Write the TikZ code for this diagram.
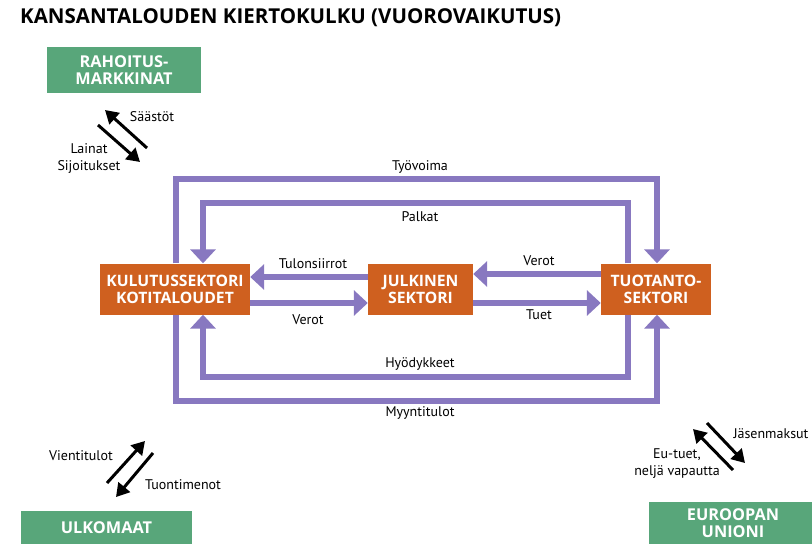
\documentclass[tikz,border=0pt]{standalone}
\usepackage{fontspec}
\setmainfont{PT Sans}
\newfontfamily\hdfont{Open Sans}
\usetikzlibrary{arrows.meta}
\definecolor{orng}{HTML}{CF601F}
\definecolor{grn}{HTML}{58A67A}
\definecolor{purp}{HTML}{8878C0}
\tikzset{
  sector/.style={fill=orng, text=white, font=\hdfont\fontsize{15.7}{17}\selectfont\bfseries, align=center, inner sep=0pt},
  grnbox/.style={fill=grn, text=white, font=\hdfont\fontsize{16.3}{17}\selectfont\bfseries, align=center, inner sep=0pt},
  flow/.style={draw=purp, line width=6pt, -{Triangle[width=25pt,length=14pt]}},
  money/.style={draw=black, line width=3pt, -{Triangle[width=15pt,length=13pt]}},
  lbl/.style={font=\fontsize{14}{17}\selectfont, text=black, inner sep=0pt, align=center}
}
\begin{document}
\begin{tikzpicture}[x=1pt,y=-1pt]
\useasboundingbox (0,0) rectangle (812,544);
\clip (0,0) rectangle (812,544);
\fill[white] (0,0) rectangle (812,544);
% title
\node[anchor=west, inner sep=0pt, font=\hdfont\fontsize{20.5}{22}\selectfont\bfseries] (title) at (20,18) {KANSANTALOUDEN KIERTOKULKU (VUOROVAIKUTUS)};
% sector boxes
\node[sector, minimum width=150pt, minimum height=51pt] (kul) at (175,289) {KULUTUSSEKTORI\\KOTITALOUDET};
\node[sector, minimum width=105pt, minimum height=51pt] (jul) at (420.5,289) {JULKINEN\\SEKTORI};
\node[sector, minimum width=110pt, minimum height=51pt] (tuo) at (656,289) {TUOTANTO-\\SEKTORI};
% green boxes
\node[grnbox, minimum width=154pt, minimum height=46pt] (rah) at (124,70) {RAHOITUS-\\MARKKINAT};
\node[grnbox, minimum width=171pt, minimum height=40pt, anchor=north] (ulk) at (106.5,511) {};
\node[grnbox, anchor=center] (ulkt) at (106.5,528) {ULKOMAAT};
\node[grnbox, minimum width=170pt, minimum height=50pt, anchor=north west] (eu) at (649,502) {};
\node[grnbox, anchor=center] (eut) at (733,523) {EUROOPAN\\UNIONI};
% corner coordinates of purple loops
\coordinate (t1) at (176,179);
\coordinate (t2) at (657,179);
\coordinate (p1) at (628,203);
\coordinate (p2) at (203,203);
\coordinate (h1) at (628,377);
\coordinate (h2) at (203,377);
\coordinate (m1) at (176,401);
\coordinate (m2) at (657,401);
% purple flows
\draw[flow] (kul.north -| t1) -- (t1) -- (t2) -- (tuo.north -| t2);
\draw[flow] (tuo.north -| p1) -- (p1) -- (p2) -- (kul.north -| p2);
\draw[flow] (tuo.south -| h1) -- (h1) -- (h2) -- (kul.south -| h2);
\draw[flow] (kul.south -| m1) -- (m1) -- (m2) -- (tuo.south -| m2);
\draw[flow] ([yshift=12pt]jul.west) -- ([yshift=12pt]kul.east);
\draw[flow] ([yshift=-14pt]kul.east) -- ([yshift=-14pt]jul.west);
\draw[flow] ([yshift=15pt]tuo.west) -- ([yshift=15pt]jul.east);
\draw[flow] ([yshift=-14pt]jul.east) -- ([yshift=-14pt]tuo.west);
% purple labels
\node[lbl] (lty) at (420,167) {Työvoima};
\node[lbl] (lpa) at (420,217) {Palkat};
\node[lbl] (ltu) at (313,264) {Tulonsiirrot};
\node[lbl] (lve1) at (308,320) {Verot};
\node[lbl] (lve2) at (539,261) {Verot};
\node[lbl] (ltt) at (539,315) {Tuet};
\node[lbl] (lhy) at (420,364) {Hyödykkeet};
\node[lbl] (lmy) at (420,413) {Myyntitulot};
% black money arrows: financial markets
\coordinate (a1s) at (147,148);
\coordinate (a1e) at (105,110);
\coordinate (a2s) at (98,125);
\coordinate (a2e) at (140,162);
\draw[money] (a1s) -- (a1e);
\draw[money] (a2s) -- (a2e);
\node[lbl] (lsa) at (152,117) {Säästöt};
\node[lbl] (lla) at (89,159) {Lainat\\Sijoitukset};
% foreign
\coordinate (b1s) at (107,483);
\coordinate (b1e) at (145,441);
\coordinate (b2s) at (153,453);
\coordinate (b2e) at (116,497);
\draw[money] (b1s) -- (b1e);
\draw[money] (b2s) -- (b2e);
\node[lbl] (lvi) at (81,456) {Vientitulot};
\node[lbl] (ltm) at (183,485) {Tuontimenot};
% EU
\coordinate (c1s) at (707,423);
\coordinate (c1e) at (745,463);
\coordinate (c2s) at (733,470);
\coordinate (c2e) at (693,429);
\draw[money] (c1s) -- (c1e);
\draw[money] (c2s) -- (c2e);
\node[lbl] (lja) at (771,434) {Jäsenmaksut};
\node[lbl] (leu) at (677,464) {Eu-tuet,\\neljä vapautta};
\end{tikzpicture}
\end{document}
